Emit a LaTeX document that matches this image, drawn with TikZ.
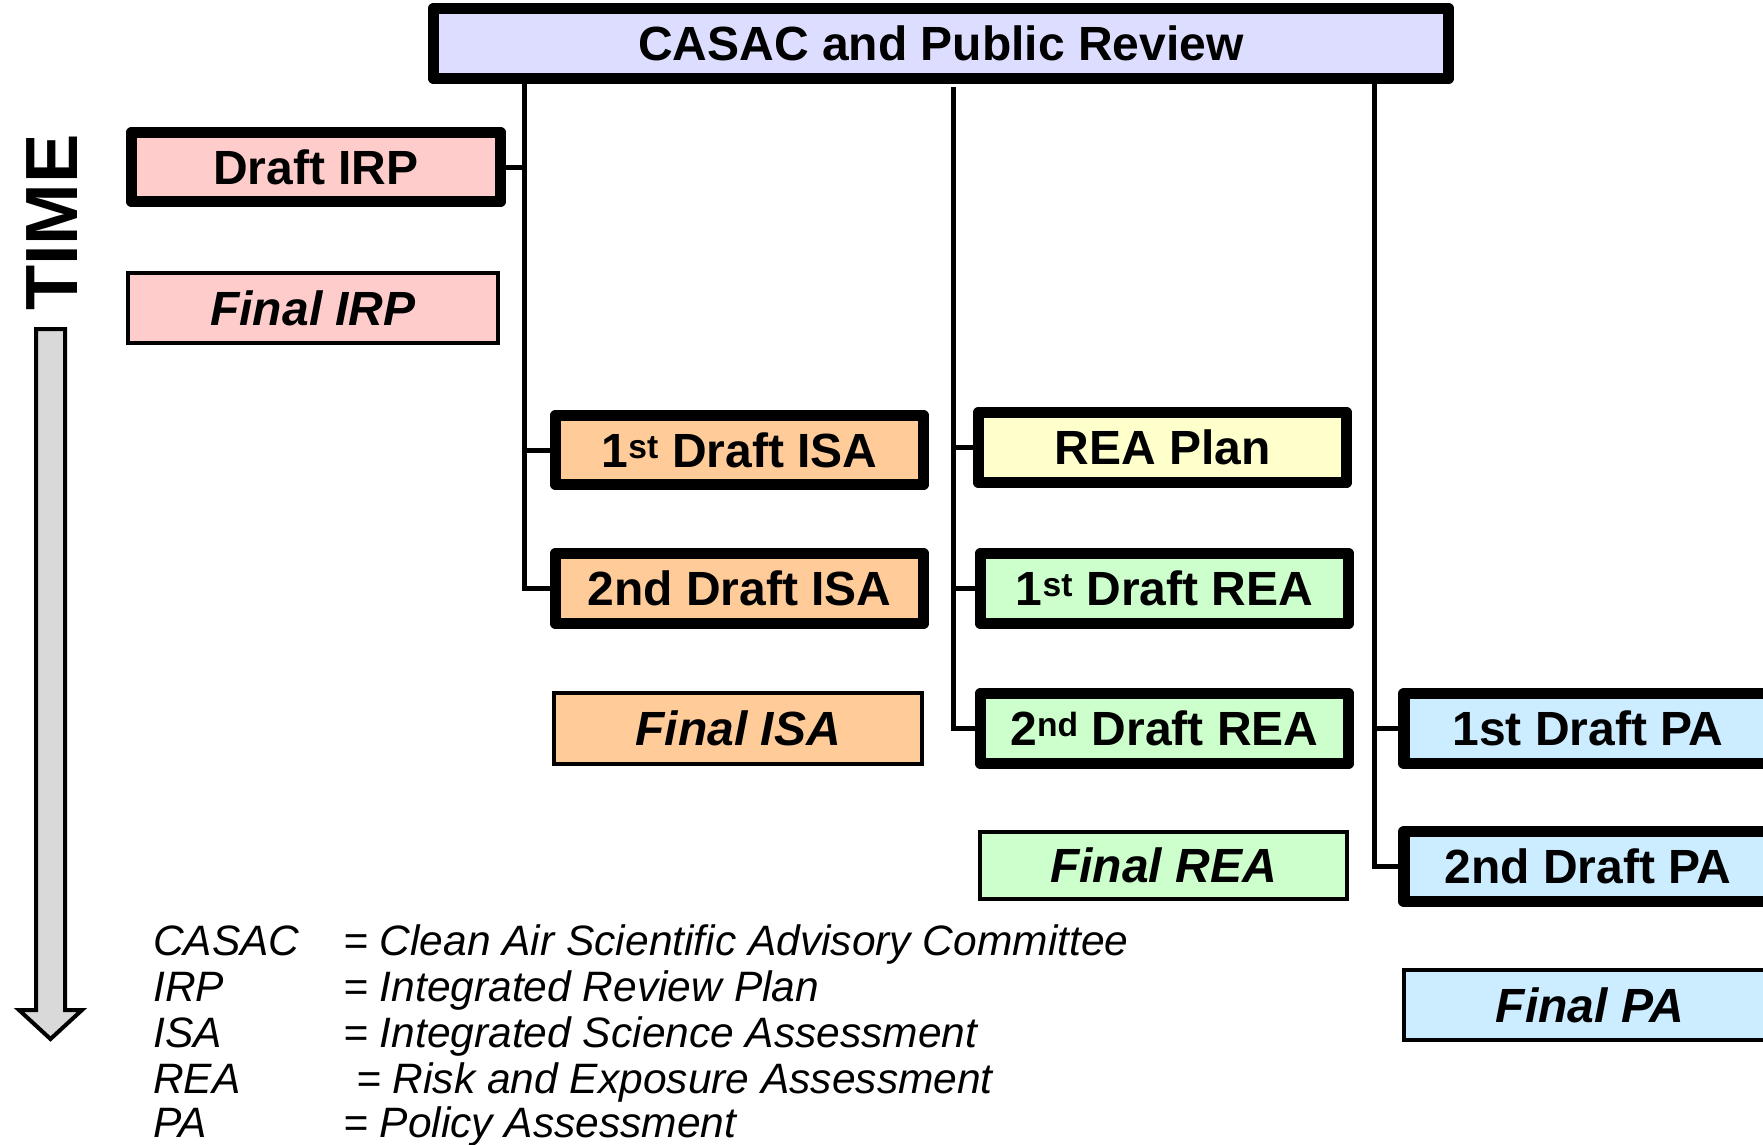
\documentclass[tikz,border=0pt]{standalone}
\usepackage{fontspec}
\setmainfont{Liberation Sans}
\definecolor{casacfill}{HTML}{DDDDFF}
\definecolor{irpfill}{HTML}{FFCCCC}
\definecolor{isafill}{HTML}{FFCC99}
\definecolor{reaplanfill}{HTML}{FFFFCC}
\definecolor{reafill}{HTML}{CCFFCC}
\definecolor{pafill}{HTML}{CCECFF}
\definecolor{arrowfill}{HTML}{D9D9D9}
\tikzset{
  thickbox/.style={draw, line width=11.5pt, line join=round, inner sep=0pt,
    minimum width=368pt, minimum height=70pt,
    font=\fontsize{48}{48}\selectfont\bfseries},
  thinbox/.style={draw, line width=4pt, inner sep=0pt,
    minimum width=369pt, minimum height=70pt,
    font=\fontsize{48}{48}\selectfont\bfseries\itshape},
  conn/.style={line width=5pt},
  legend/.style={anchor=base west, inner sep=0pt, font=\fontsize{42.5}{42.5}\selectfont\itshape}
}
\begin{document}
\begin{tikzpicture}[x=1pt,y=-1pt]
\useasboundingbox (0,0) rectangle (1763,1145);
\clip (0,0) rectangle (1763,1145);

% top box
\node[thickbox, fill=casacfill, minimum width=1015pt] (casac) at (941,43.5) {CASAC and Public Review};

% IRP
\node[thickbox, fill=irpfill, minimum width=369pt, minimum height=69pt] (irp1) at (316,167) {Draft IRP};
\node[thinbox, fill=irpfill, minimum width=370pt] (irp2) at (313,308) {Final IRP};

% ISA
\node[thickbox, fill=isafill, minimum height=69pt] (isa1) at (739.5,450) {1\textsuperscript{st} Draft ISA};
\node[thickbox, fill=isafill] (isa2) at (739.5,588.5) {2nd Draft ISA};
\node[thinbox, fill=isafill, minimum width=368pt, minimum height=71pt] (isa3) at (738,728.5) {Final ISA};

% REA
\node[thickbox, fill=reaplanfill] (rea0) at (1162.5,447.5) {REA Plan};
\node[thickbox, fill=reafill] (rea1) at (1164.5,588.5) {1\textsuperscript{st} Draft REA};
\node[thickbox, fill=reafill] (rea2) at (1164.5,728.5) {2\textsuperscript{nd} Draft REA};
\node[thinbox, fill=reafill, minimum width=367pt, minimum height=67pt] (rea3) at (1163.5,865.5) {Final REA};

% PA
\node[thickbox, fill=pafill] (pa1) at (1588,728.5) {1st Draft PA};
\node[thickbox, fill=pafill] (pa2) at (1588,866.5) {2nd Draft PA};
\node[thinbox, fill=pafill, minimum width=372pt] (pa3) at (1590,1005) {Final PA};

% bus coordinates
\coordinate (b1) at (524.5,0);
\coordinate (b2) at (953.5,0);
\coordinate (b3) at (1374,0);

% connectors
\draw[conn] (casac.south -| b1) -- (b1 |- isa2.west) -- (isa2.west);
\draw[conn] (irp1.east) -- (irp1.east -| b1);
\draw[conn] (isa1.west -| b1) -- (isa1.west);

\draw[conn] ([yshift=-3pt]casac.south -| b2) -- (b2 |- rea2.west) -- (rea2.west);
\draw[conn] (rea0.west -| b2) -- (rea0.west);
\draw[conn] (rea1.west -| b2) -- (rea1.west);

\draw[conn] (casac.south -| b3) -- (b3 |- pa2.west) -- (pa2.west);
\draw[conn] (pa1.west -| b3) -- (pa1.west);

% time arrow
\draw[line width=4pt, fill=arrowfill, line join=miter]
  (36,329) -- (65,329) -- (65,1010) -- (82,1010) -- (50.5,1039) -- (19,1010) -- (36,1010) -- cycle;
\node[rotate=90, inner sep=0pt, font=\fontsize{74}{74}\selectfont\bfseries] (time) at (52,222.5) {TIME};

% legend
\node[legend] (l1a) at (153,955) {CASAC};
\node[legend] (l1b) at (343,955) {= Clean Air Scientific Advisory Committee};
\node[legend] (l2a) at (153,1001) {IRP};
\node[legend] (l2b) at (343,1001) {= Integrated Review Plan};
\node[legend] (l3a) at (153,1047) {ISA};
\node[legend] (l3b) at (343,1047) {= Integrated Science Assessment};
\node[legend] (l4a) at (153,1093) {REA};
\node[legend] (l4b) at (356,1093) {= Risk and Exposure Assessment};
\node[legend] (l5a) at (153,1137) {PA};
\node[legend] (l5b) at (343,1137) {= Policy Assessment};
\end{tikzpicture}
\end{document}
